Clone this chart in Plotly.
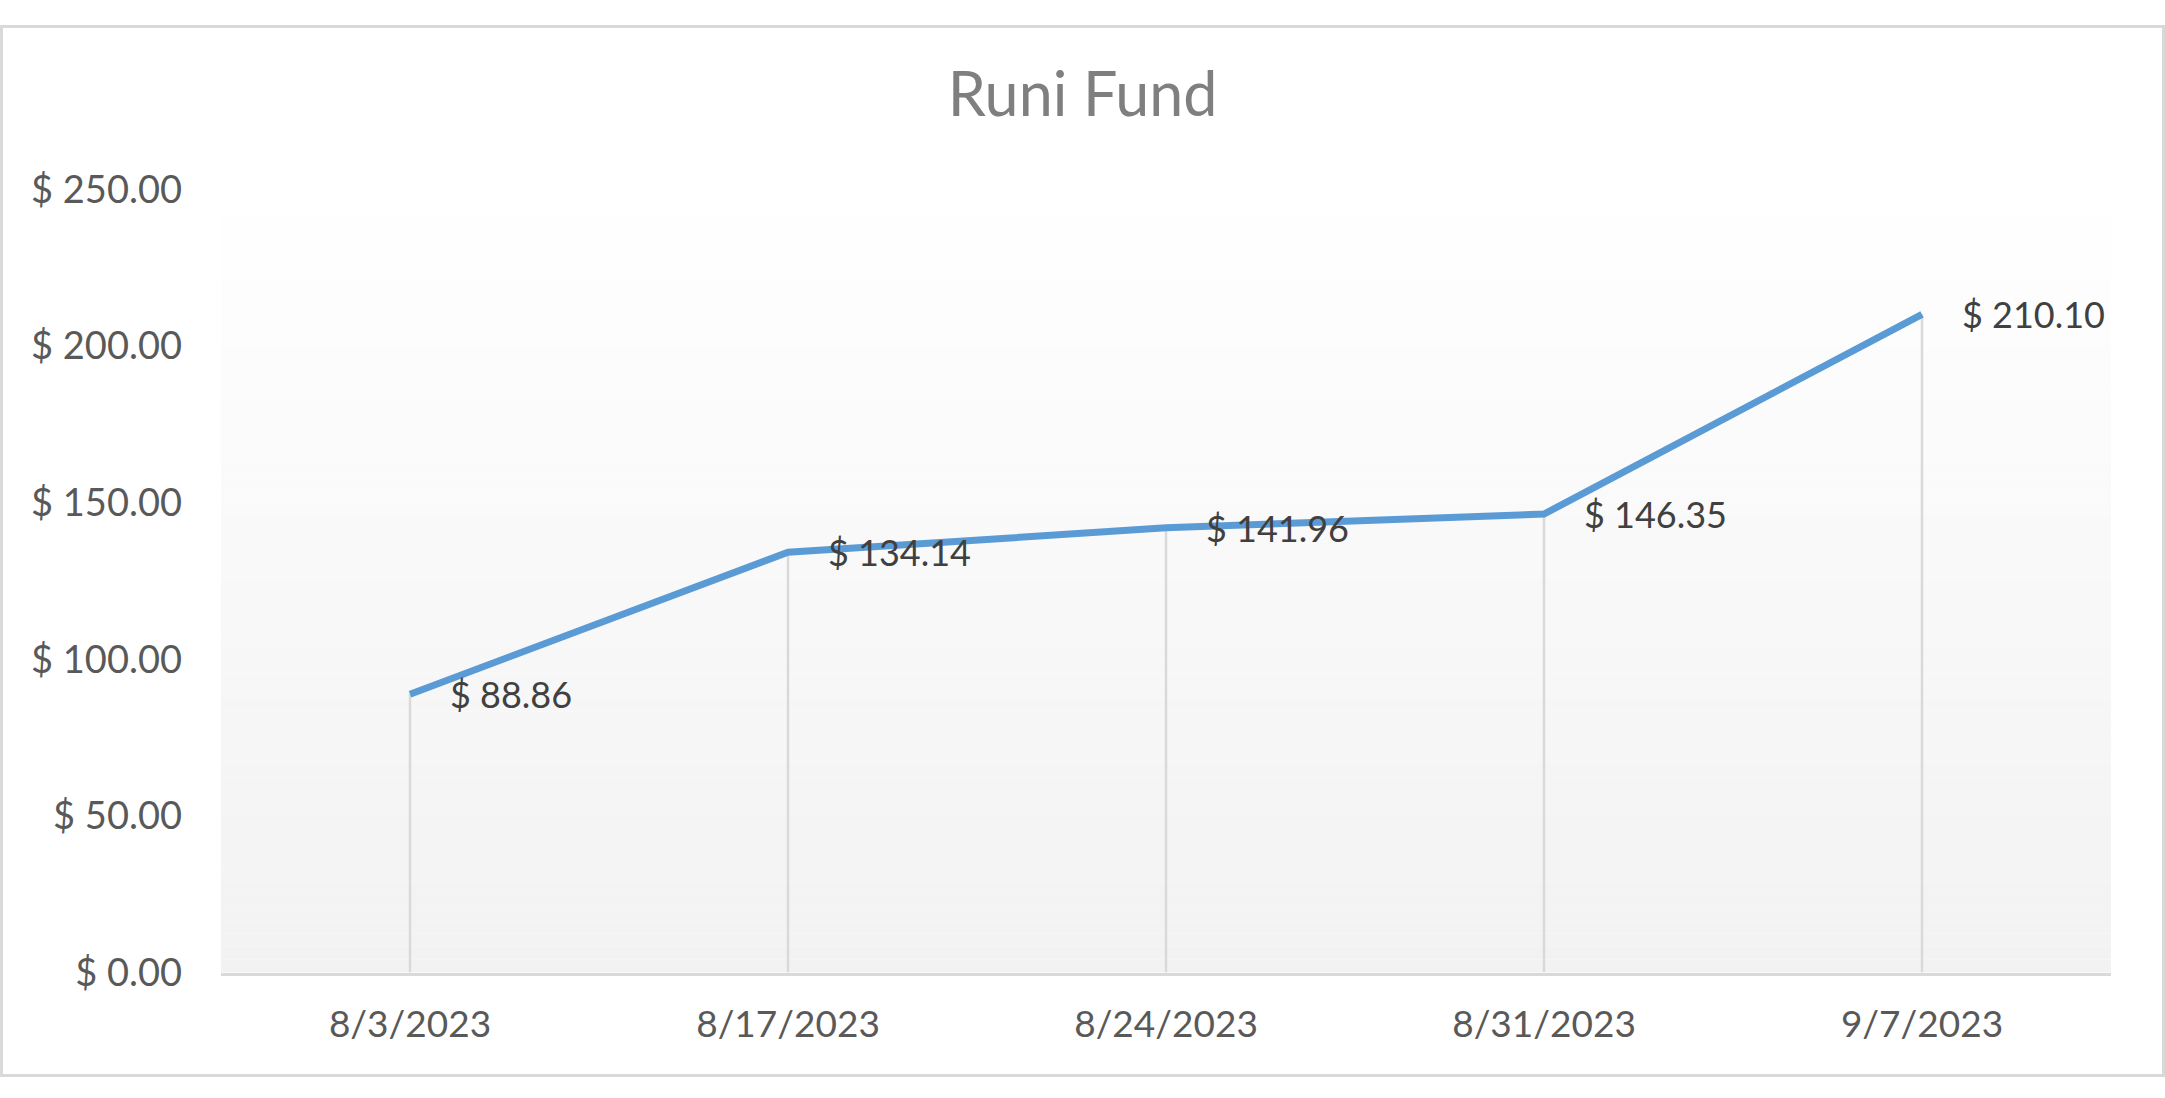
import plotly.graph_objects as go

# Runi Fund weekly value
dates = ['8/3/2023', '8/17/2023', '8/24/2023', '8/31/2023', '9/7/2023']
values = [88.86, 134.14, 141.96, 146.35, 210.10]
y_ticks = [0, 50, 100, 150, 200, 250]

W, H = 2165, 1098
FONT = 'Lato'
LINE_BLUE = '#5b9bd5'
GRID_GREY = '#d9d9d9'

fig = go.Figure()

# drop lines from the axis up to each point
drop_x, drop_y = [], []
for d, v in zip(dates, values):
    drop_x += [d, d, None]
    drop_y += [0, v, None]
fig.add_trace(go.Scatter(x=drop_x, y=drop_y, mode='lines',
                         line=dict(color=GRID_GREY, width=2.5),
                         hoverinfo='skip', showlegend=False))

fig.add_trace(go.Scatter(x=dates, y=values, mode='lines', name='Runi Fund',
                         line=dict(color=LINE_BLUE, width=7, shape='linear'),
                         showlegend=False))

# data labels, placed to the right of each point
for d, v in zip(dates, values):
    fig.add_annotation(x=d, y=v, text=f'$ {v:,.2f}', showarrow=False,
                       xanchor='left', yanchor='middle', xshift=38,
                       font=dict(family=FONT, size=36, color='#404040'))

# plot area gradient (white at top, light grey at bottom)
n_bands = 60
shapes = []
for i in range(n_bands):
    t = (i + 0.5) / n_bands
    c = round(255 - 13 * t)
    shapes.append(dict(type='rect', xref='x domain', yref='y domain',
                       x0=0, x1=1, y0=1 - (i + 1) / n_bands, y1=1 - i / n_bands,
                       fillcolor=f'rgb({c},{c},{c})', line=dict(width=0),
                       layer='below'))
# chart border
shapes.append(dict(type='rect', xref='paper', yref='paper',
                   x0=0.0007, x1=0.9993, y0=0.0014, y1=0.9986,
                   line=dict(color=GRID_GREY, width=3), fillcolor='rgba(0,0,0,0)'))

fig.update_layout(
    width=W, height=H,
    margin=dict(t=0, b=0, l=0, r=0),
    paper_bgcolor='white', plot_bgcolor='white',
    shapes=shapes,
    title=dict(text='Runi Fund', x=0.5, xanchor='center', y=1 - 95 / H, yanchor='middle',
               font=dict(family=FONT, size=61, color='#7f7f7f')),
    xaxis=dict(type='category', domain=[221 / W, 2111 / W], range=[-0.5, 4.5],
               showgrid=False, zeroline=False, showline=True, linecolor=GRID_GREY, linewidth=2.5,
               ticks='', ticklabelstandoff=17,
               tickfont=dict(family=FONT, size=37, color='#595959')),
    yaxis=dict(domain=[1 - 989 / H, 1 - 171.5 / H], range=[0, 250],
               tickvals=y_ticks, ticktext=[f'$ {t:.2f}' for t in y_ticks],
               showgrid=False, zeroline=False, showline=False, ticks='',
               ticklabelstandoff=38,
               tickfont=dict(family=FONT, size=38, color='#595959')),
)

fig.write_html("out.html", config={'displayModeBar': False},
               post_script="document.body.style.margin='0';document.body.style.overflow='hidden';")
